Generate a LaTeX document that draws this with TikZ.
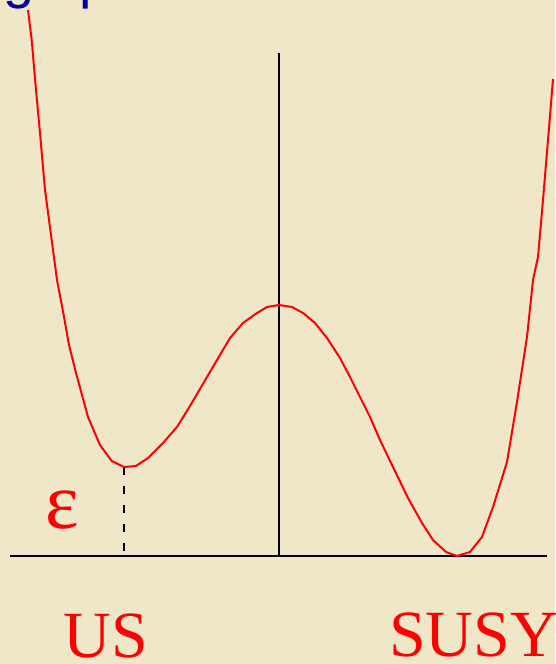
\documentclass[tikz,border=0pt]{standalone}
\usepackage{fontspec}
\setmainfont{Liberation Serif}
\newfontfamily\titlefont{Liberation Sans}
\definecolor{bg}{RGB}{240,231,200}
\definecolor{titleblue}{RGB}{0,0,165}
\definecolor{curvered}{RGB}{255,0,0}
\tikzset{
  axisline/.style={draw=black,line width=2.2pt},
  potcurve/.style={draw=curvered,line width=2pt,line join=round},
  guide/.style={draw=black,line width=2pt,dash pattern=on 8pt off 11pt},
  redlabel/.style={text=curvered,font=\fontsize{66}{70}\selectfont,inner sep=0pt},
  titletext/.style={text=titleblue,font=\titlefont\fontsize{56}{60}\selectfont,inner sep=0pt}
}
\begin{document}
\begin{tikzpicture}[x=1pt,y=-1pt]
\useasboundingbox (0,0) rectangle (555,664);
\fill[bg] (0,0) rectangle (555,664);
\clip (0,0) rectangle (555,664);
% clipped title fragments
\node[titletext,anchor=base west] (tg) at (3,-3) {g};
\node[titletext,anchor=base west] (tp) at (79,-3) {p};
\node[titletext,anchor=base west] (tg2) at (377,-15) {g};
% axes
\coordinate (xl) at (10,556);
\coordinate (xr) at (547,556);
\coordinate (yt) at (279,53);
\coordinate (yb) at (279,556);
\draw[axisline] (xl) -- (xr);
\draw[axisline,line width=1.8pt] (yt) -- (yb);
% false vacuum marker
\coordinate (fvmin) at (124,467);
\coordinate (fvbase) at (124,556);
\draw[guide] (fvmin) -- (fvbase);
% potential
\draw[potcurve] plot coordinates {
(28,10) (31.7,40) (36,90) (40,133) (45,190) (51.7,240) (57,280) (63.3,313) (69,345) (76,373) (88,417)
(100,445) (111.7,461) (124,467) (136,466) (148,458) (163,443) (177,427)
(190,406) (207,377) (220,355) (230,338) (243,323) (257,313) (267,307) (279,305)
(292,307) (303,313) (315,323) (327,338) (340,358) (350,377) (360,397)
(370,417) (380,440) (393,467) (408,498) (422,523) (433,540) (446,552)
(457,556) (470,552) (482,537) (493,507) (507,462) (517,402) (527,337)
(533,280) (538,257) (543,200) (548,140) (553,79)};
% labels
\node[redlabel,font=\fontsize{80}{84}\selectfont] (eps) at (62,510) {ε};
\node[redlabel,anchor=base] (us) at (106,657) {US};
\node[redlabel,anchor=base west] (susy) at (389,656) {SUSY};
\end{tikzpicture}
\end{document}
